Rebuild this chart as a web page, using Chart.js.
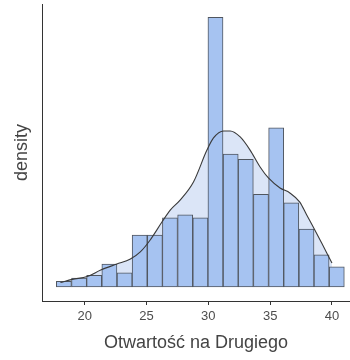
<!DOCTYPE html>
<html>
<head>
<meta charset="utf-8">
<script src="https://cdn.jsdelivr.net/npm/chart.js@4/dist/chart.umd.min.js"></script>
<style>
  body { margin: 0; background: #fff; }
</style>
</head>
<body>
<canvas id="hist" width="350" height="360"></canvas>
<script>
// histogram bins (centres, width 1.226) and their densities
const binCentres = [18.32, 19.55, 20.77, 22.00, 23.23, 24.45, 25.68, 26.90, 28.13, 29.36,
                    30.58, 31.81, 33.03, 34.26, 35.49, 36.71, 37.94, 39.16, 40.39];
const binDensity = [0.0034, 0.0054, 0.0070, 0.0138, 0.0086, 0.0313, 0.0313, 0.0417, 0.0435, 0.0417,
                    0.1623, 0.0800, 0.0768, 0.0558, 0.0958, 0.0507, 0.0349, 0.0193, 0.0122];

// kernel density estimate
const kdeX = [18.04, 19.0, 20.2, 21.3, 22.6, 23.7, 24.5, 25.3, 26.25, 26.92, 27.72, 28.8, 29.89, 30.42,
              31.23, 31.77, 32.58, 33.38, 34.19, 34.86, 35.8, 36.6, 37.4, 37.96, 38.53, 39.18, 40.0];
const kdeY = [0.0027, 0.0046, 0.0063, 0.0102, 0.0138, 0.0168, 0.0211, 0.0283, 0.0391, 0.0463, 0.0523, 0.0632, 0.0824, 0.0897,
              0.0939, 0.0939, 0.0903, 0.0824, 0.0722, 0.0656, 0.0596, 0.0566, 0.0511, 0.0433, 0.0355, 0.0263, 0.0144];

const xTicks = [20, 25, 30, 35, 40];

const font = 'Liberation Sans, Arial, sans-serif';

new Chart(document.getElementById('hist'), {
  type: 'bar',
  data: {
    datasets: [{
      type: 'line',
      data: kdeX.map((x, i) => ({ x: x, y: kdeY[i] })),
      borderColor: '#3a3a3a',
      borderWidth: 1.1,
      backgroundColor: 'rgba(200, 215, 242, 0.65)',
      fill: 'origin',
      pointRadius: 0,
      cubicInterpolationMode: 'monotone',
      order: 0
    }, {
      data: binCentres.map((x, i) => ({ x: x, y: binDensity[i] })),
      backgroundColor: '#a6c3f1',
      borderColor: '#50565f',
      borderWidth: 1,
      borderSkipped: false,
      barPercentage: 1,
      categoryPercentage: 1,
      order: 1
    }]
  },
  options: {
    responsive: false,
    animation: false,
    layout: { padding: { top: 4, right: 0, left: 0, bottom: 0 } },
    plugins: {
      legend: { display: false },
      tooltip: { enabled: false },
      filler: { drawTime: 'beforeDatasetsDraw' }
    },
    scales: {
      x: {
        type: 'linear',
        offset: false,
        min: 16.55,
        max: 41.46,
        afterBuildTicks: s => { s.ticks = xTicks.map(v => ({ value: v })); },
        afterFit: s => { s.height = 59; },
        grid: { offset: false, drawOnChartArea: false, drawTicks: true, tickLength: 4, color: '#333' },
        border: { display: true, color: '#333', width: 1 },
        ticks: { color: '#4d4d4d', font: { family: font, size: 13 }, padding: 4, maxRotation: 0 },
        title: {
          display: true,
          text: 'Otwartość na Drugiego',
          color: '#444',
          font: { family: font, size: 18 },
          padding: { top: 0, bottom: 6 }
        }
      },
      y: {
        min: -0.00842,
        max: 0.1703,
        afterFit: s => { s.width = 42; },
        grid: { display: false },
        border: { display: true, color: '#333', width: 1 },
        ticks: { display: false },
        title: {
          display: true,
          text: 'density',
          color: '#444',
          font: { family: font, size: 18 },
          padding: { top: 11, bottom: 0 }
        }
      }
    }
  }
});
</script>
</body>
</html>
